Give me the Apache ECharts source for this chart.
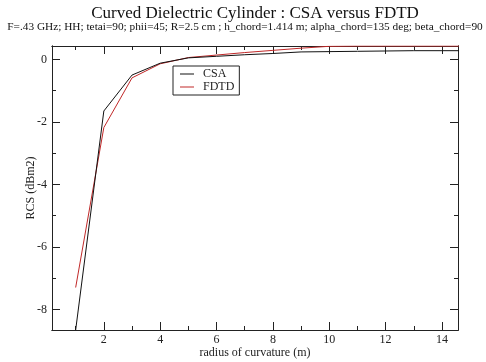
<!DOCTYPE html>
<html><head><meta charset="utf-8">
<script src="https://cdn.jsdelivr.net/npm/echarts@6/dist/echarts.min.js"></script>
<style>html,body{margin:0;padding:0;background:#fff}#c{width:486px;height:362px}</style>
</head><body><div id="c"></div>
<script>
const radius = [1,2,3,4,5,6,7,8,9,10,11,12,13,14,15];
const csa  = [-8.66,-1.65,-0.50,-0.12,0.05,0.10,0.15,0.19,0.24,0.25,0.26,0.27,0.28,0.28,0.28];
const fdtd = [-7.30,-2.18,-0.59,-0.14,0.06,0.14,0.22,0.29,0.36,0.42,0.43,0.43,0.43,0.43,0.43];
const xMajor = [2,4,6,8,10,12,14];
const xMinor = [1,3,5,7,9,11,13];
const yMajor = [-8,-6,-4,-2,0];
const yMinor = [-7,-5,-3,-1];
const titleText = 'Curved Dielectric Cylinder : CSA versus FDTD';
const subText = 'F=.43 GHz; HH; tetai=90; phii=45; R=2.5 cm ; h_chord=1.414 m; alpha_chord=135 deg; beta_chord=90';
const xName = 'radius of curvature (m)';
const yName = 'RCS (dBm2)';

const FONT = '"Liberation Serif", "DejaVu Serif", serif';
const AX = '#222';
const xMin = 0.16, xMax = 14.57, yMin = -8.66, yMax = 0.43;

function xAx(pos, ticks, len, labels, extra) {
  return Object.assign({
    type: 'value', min: xMin, max: xMax, position: pos,
    axisLine: { show: true, onZero: false, lineStyle: { color: AX, width: 1 } },
    axisTick: { show: true, inside: true, length: len, customValues: ticks, lineStyle: { color: AX } },
    axisLabel: labels ? { show: true, customValues: ticks, color: '#222', fontFamily: FONT, fontSize: 12, margin: 4 } : { show: false },
    splitLine: { show: false }
  }, extra || {});
}
function yAx(pos, ticks, len, labels, extra) {
  return Object.assign({
    type: 'value', min: yMin, max: yMax, position: pos,
    axisLine: { show: true, onZero: false, lineStyle: { color: AX, width: 1 } },
    axisTick: { show: true, inside: true, length: len, customValues: ticks, lineStyle: { color: AX } },
    axisLabel: labels ? { show: true, customValues: ticks, color: '#222', fontFamily: FONT, fontSize: 12, margin: 5 } : { show: false },
    splitLine: { show: false }
  }, extra || {});
}

const chart = echarts.init(document.getElementById('c'), null, { renderer: 'canvas' });
chart.setOption({
  animation: false,
  backgroundColor: '#fff',
  grid: { left: 52, right: 28, top: 46, bottom: 32, containLabel: false, outerBoundsMode: 'none' },
  graphic: [
    { type: 'text', style: { text: titleText, x: 255, y: 14, textAlign: 'center', textVerticalAlign: 'middle', font: '17px ' + FONT, fill: '#111' } },
    { type: 'text', style: { text: subText, x: 245, y: 27, textAlign: 'center', textVerticalAlign: 'middle', font: '11.3px ' + FONT, fill: '#111' } }
  ],
  legend: {
    orient: 'vertical', left: 173, top: 66,
    backgroundColor: '#fff', borderColor: AX, borderWidth: 1, borderRadius: 0,
    padding: [2, 5, 2, 7], itemGap: 1, itemWidth: 14, itemHeight: 1,
    icon: 'rect',
    textStyle: { fontFamily: FONT, fontSize: 12, color: '#222', padding: [0, 0, 0, 4] },
    data: ['CSA', 'FDTD']
  },
  xAxis: [
    xAx('bottom', xMajor, 8, true, { name: xName, nameLocation: 'middle', nameGap: 17, nameMoveOverlap: false, nameTextStyle: { fontFamily: FONT, fontSize: 12, color: '#222' } }),
    xAx('bottom', xMinor, 4, false),
    xAx('top', xMajor, 8, false),
    xAx('top', xMinor, 4, false)
  ],
  yAxis: [
    yAx('left', yMajor, 8, true, { name: yName, nameLocation: 'middle', nameGap: 15, nameMoveOverlap: false, nameTextStyle: { fontFamily: FONT, fontSize: 12, color: '#222' } }),
    yAx('left', yMinor, 4, false),
    yAx('right', yMajor, 8, false),
    yAx('right', yMinor, 4, false)
  ],
  series: [
    { name: 'CSA', type: 'line', xAxisIndex: 0, yAxisIndex: 0, symbol: 'none', clip: true,
      data: radius.map((r, i) => [r, csa[i]]), lineStyle: { color: '#111', width: 1 }, itemStyle: { color: '#111' }, z: 3 },
    { name: 'FDTD', type: 'line', xAxisIndex: 0, yAxisIndex: 0, symbol: 'none', clip: true,
      data: radius.map((r, i) => [r, fdtd[i]]), lineStyle: { color: '#c02828', width: 1 }, itemStyle: { color: '#c02828' }, z: 2 }
  ]
});
</script></body></html>
